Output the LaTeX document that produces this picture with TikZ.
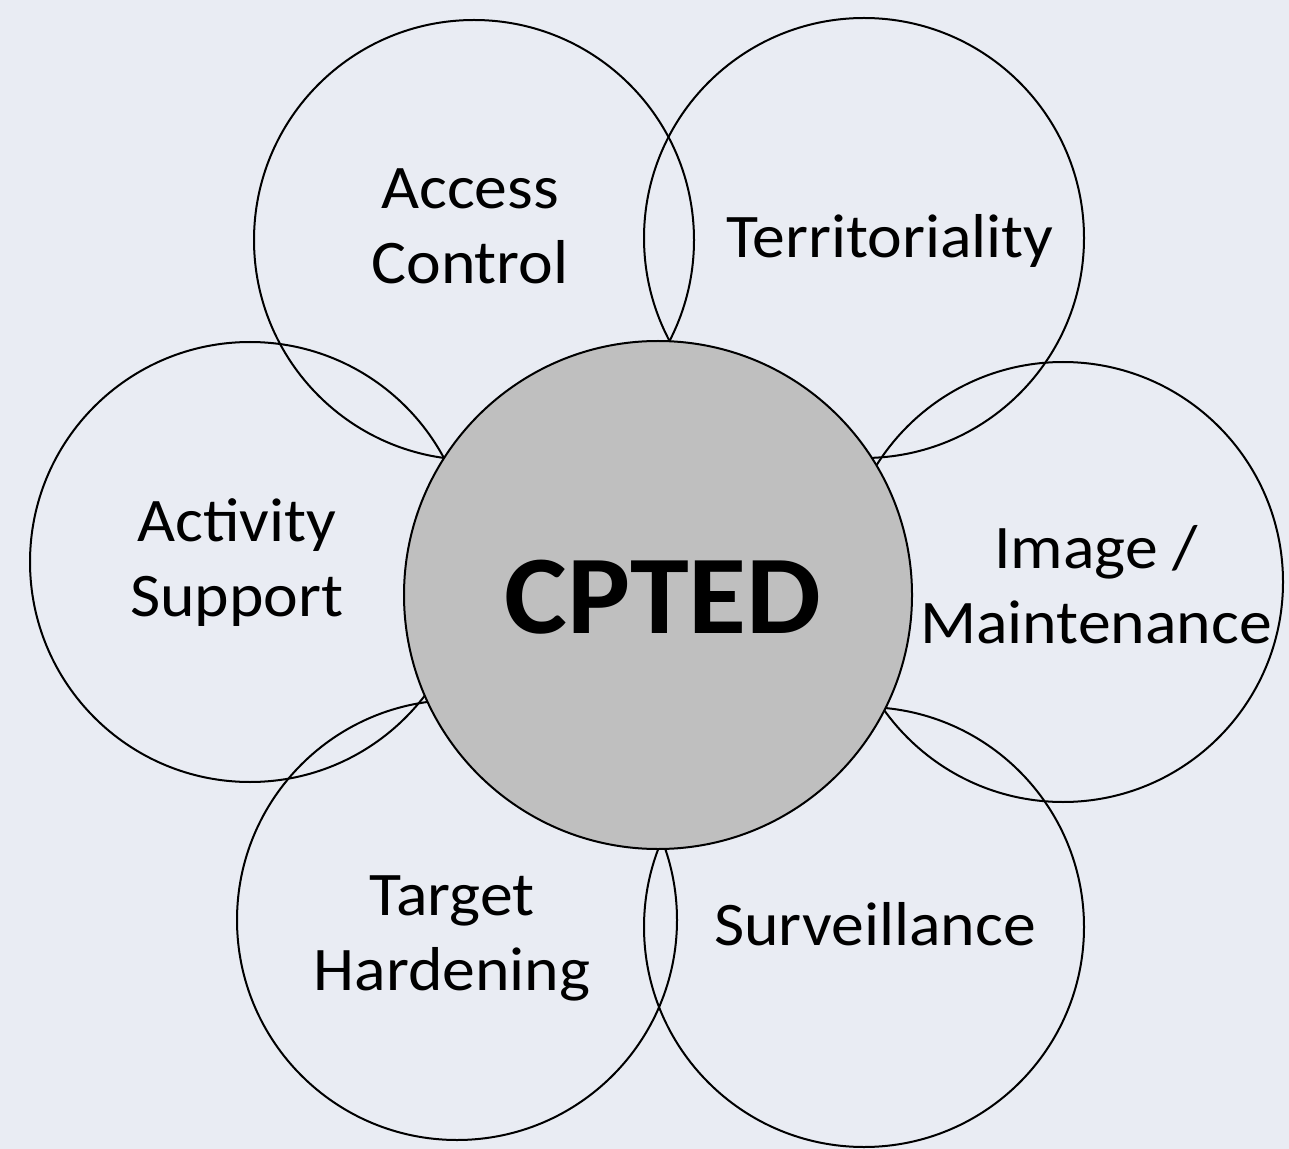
\documentclass[tikz,border=0pt]{standalone}
\usepackage{fontspec}
\setmainfont{Carlito}[FakeStretch=1.06]
\definecolor{bg}{HTML}{E9ECF3}
\definecolor{core}{HTML}{BFBFBF}
\begin{document}
\begin{tikzpicture}[x=0.5pt,y=-0.5pt,
 petal/.style={circle,draw=black,line width=1pt,minimum size=220pt,inner sep=0pt},
 hub/.style={circle,draw=black,fill=core,line width=1pt,minimum size=254pt,inner sep=0pt},
 lbl/.style={align=center,inner sep=0pt,font=\fontsize{31}{37.5}\selectfont},
 hublbl/.style={inner sep=0pt,font=\fontsize{56}{60}\selectfont\bfseries}]
\fill[bg] (0,0) rectangle (1289,1149);
\useasboundingbox (0,0) rectangle (1289,1149);
\node[petal] (ac) at (474,240) {};
\node[petal] (te) at (864,238) {};
\node[petal] (as) at (250,562) {};
\node[petal] (im) at (1063,582) {};
\node[petal] (th) at (457,920) {};
\node[petal] (su) at (864,927) {};
\node[hub] (cp) at (658,595) {};
\node[lbl] (acl) at (470,226) {Access\\Control};
\node[lbl] (tel) at (890,241) {Territoriality};
\node[lbl] (asl) at (237,563) {Activity\\Support};
\node[lbl] (iml) at (1096,585) {Image /\\Maintenance};
\node[lbl] (thl) at (452,938) {Target\\Hardening};
\node[lbl] (sul) at (875,924) {Surveillance};
\node[hublbl] (cpl) at (663,597) {CPTED};
\end{tikzpicture}
\end{document}
